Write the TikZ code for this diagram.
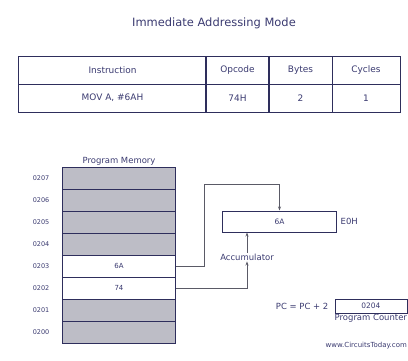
\documentclass[tikz,border=0pt]{standalone}
\usepackage{fontspec}
\setmainfont{DejaVu Sans}
\usepackage{xcolor}
\usetikzlibrary{arrows.meta, positioning}

\definecolor{navy}{HTML}{2E2E5C}
\definecolor{ink}{HTML}{3A3A70}
\definecolor{memgray}{HTML}{BDBDC6}
\definecolor{wire}{HTML}{5A5A66}

\begin{document}
\begin{tikzpicture}[
  x=1bp, y=-1bp,
  node distance=4bp,
  cell/.style={draw=navy, line width=1bp, minimum height=28bp, inner sep=0pt,
               font=\fontsize{9}{10}\selectfont, text=ink},
  memrow/.style={draw=navy, line width=1bp, fill=memgray, minimum width=112bp,
                 minimum height=22bp, inner sep=0pt,
                 font=\fontsize{7}{8}\selectfont, text=ink},
  addr/.style={font=\fontsize{6.5}{8}\selectfont, text=ink, inner sep=0pt},
  reg/.style={draw=navy, line width=1bp, inner sep=0pt,
              font=\fontsize{7.5}{8}\selectfont, text=ink},
  lbl/.style={font=\fontsize{8.5}{9}\selectfont, text=ink, inner sep=1bp},
  link/.style={draw=wire, line width=0.7bp},
  arrow/.style={link, -{Stealth[length=4bp,width=3bp]}}
]
\useasboundingbox (0,0) rectangle (408,361);

\node[text=ink, font=\fontsize{11.5}{13}\selectfont] (title) at (214,23) {Immediate Addressing Mode};

% instruction table
\node[cell, minimum width=187bp] (hinstr)  at (112.5,70) {Instruction};
\node[cell, minimum width=63bp]  (hopcode) at (237.5,70) {Opcode};
\node[cell, minimum width=63bp]  (hbytes)  at (300.5,70) {Bytes};
\node[cell, minimum width=68bp]  (hcycles) at (366,70)   {Cycles};
\node[cell, minimum width=187bp] (instr)   at (112.5,98) {MOV A, \#6AH};
\node[cell, minimum width=63bp]  (opcode)  at (237.5,98) {74H};
\node[cell, minimum width=63bp]  (bytes)   at (300.5,98) {2};
\node[cell, minimum width=68bp]  (cycles)  at (366,98)   {1};

% program memory
\node[memrow]          (mem7) at (119,178) {};
\node[memrow]          (mem6) at (119,200) {};
\node[memrow]          (mem5) at (119,222) {};
\node[memrow]          (mem4) at (119,244) {};
\node[memrow, fill=white] (mem3) at (119,266) {6A};
\node[memrow, fill=white] (mem2) at (119,288) {74};
\node[memrow]          (mem1) at (119,310) {};
\node[memrow]          (mem0) at (119,332) {};

\node[lbl, above=0bp of mem7] (memtitle) {Program Memory};

\node[addr, left=13bp of mem7] (a7) {0207};
\node[addr, left=13bp of mem6] (a6) {0206};
\node[addr, left=13bp of mem5] (a5) {0205};
\node[addr, left=13bp of mem4] (a4) {0204};
\node[addr, left=13bp of mem3] (a3) {0203};
\node[addr, left=13bp of mem2] (a2) {0202};
\node[addr, left=13bp of mem1] (a1) {0201};
\node[addr, left=13bp of mem0] (a0) {0200};

% accumulator
\node[reg, minimum width=113bp, minimum height=21bp] (acc) at (279.5,221.5) {6A};
\node[lbl, right=3bp of acc] (accaddr) {E0H};
\node[lbl] (acclabel) at (247,257) {Accumulator};
\coordinate (bend) at (204,184);

\draw[arrow] (mem3.east) -| (bend) -| (acc.north);
\draw[arrow] (mem2.east) -| (acclabel.south);
\draw[arrow] (acclabel.north) -- (acclabel.north |- acc.south);

% program counter
\node[reg, minimum width=72bp, minimum height=14bp] (pc) at (371,306) {0204};
\node[lbl, left=5bp of pc] (pcinc) {PC = PC + 2};
\node[lbl, anchor=north west, inner sep=0pt] (pcname) at ([yshift=-1bp]pc.south west) {Program Counter};

\node[font=\fontsize{7}{8}\selectfont, text=ink, anchor=east, inner sep=0pt] (site) at (407,346) {www.CircuitsToday.com};
\end{tikzpicture}
\end{document}
